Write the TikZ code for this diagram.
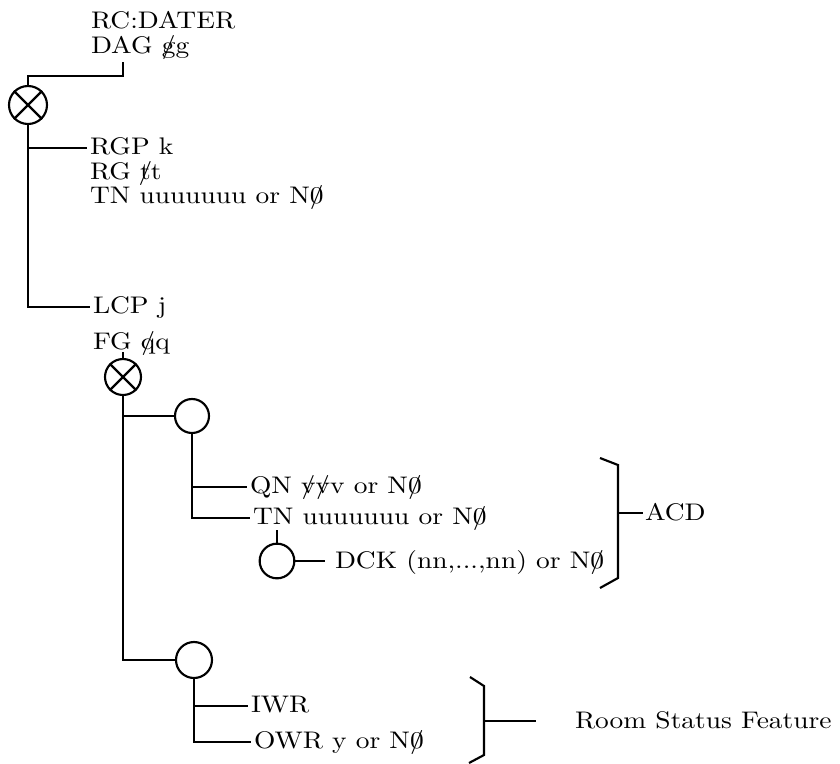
\documentclass[tikz,border=0pt]{standalone}
\usepackage{graphicx}
\newcommand\slsh[1]{\ooalign{#1\cr\hidewidth\smash{/}\hidewidth\cr}}
\newcommand\slz{\slsh{0}}
\newcommand\wide[1]{\scalebox{2.06}[1.8]{#1}}
\tikzset{
  txt/.style={anchor=base west, inner sep=0pt, outer sep=0pt, font=\fontsize{10}{12}\selectfont},
  ring/.style={circle, draw, line width=1.6pt, inner sep=0pt, minimum size=#1},
}
\begin{document}
\begin{tikzpicture}[x=0.75pt,y=-0.75pt, line width=1.6pt]
\useasboundingbox (0,0) rectangle (840,764);
% top
\node[txt] (rc) at (91,28) {\wide{RC:DATER}};
\node[txt] (dag) at (91,53) {\wide{DAG \slsh{g}g}};
\node[ring=28.5pt] (ox1) at (28,105) {};
\draw (ox1.45) -- (ox1.225) (ox1.135) -- (ox1.-45);
\coordinate (dagc) at (123,62);
\draw (ox1.north) |- ([yshift=-10.5pt]dagc) -- (dagc);
% first level
\node[txt] (rgp) at (90,154) {\wide{RGP k}};
\node[txt] (rg) at (90,179) {\wide{RG \slsh{t}t}};
\node[txt] (tna) at (90,203) {\wide{TN uuuuuuu or N\slz}};
\node[txt] (lcp) at (93,313) {\wide{LCP j}};
\node[txt] (fg) at (93,349) {\wide{FG \slsh{q}q}};
\draw (ox1.south) |- ([xshift=-2pt,yshift=4.5pt]rgp.base west);
\draw (ox1.south) |- ([xshift=-2pt,yshift=4.5pt]lcp.base west);
% second cross
\node[ring=27pt] (ox2) at (123,377) {};
\draw (ox2.45) -- (ox2.225) (ox2.135) -- (ox2.-45);
\coordinate (fgc) at (123,352);
\draw (ox2.north) -- (fgc);
\node[ring=25.5pt] (c1) at (192,416) {};
\node[ring=27pt] (c2) at (194,660) {};
\draw (ox2.south) |- (c1.west);
\draw (ox2.south) |- (c2.west);
% ACD group
\node[txt] (qn) at (250,493) {\wide{QN \slsh{v}\slsh{v}v or N\slz}};
\node[txt] (tnb) at (253,524) {\wide{TN uuuuuuu or N\slz}};
\draw (c1.south) |- ([xshift=-2pt,yshift=4.5pt]qn.base west);
\draw (c1.south) |- ([xshift=-2pt,yshift=4.5pt]tnb.base west);
\node[ring=26pt] (c3) at (277,561) {};
\coordinate (tnc) at (277,530);
\draw (c3.north) -- (tnc);
\node[txt] (dck) at (335,568) {\wide{DCK (nn,...,nn) or N\slz}};
\coordinate (dckl) at (325,561);
\draw (c3.east) -- (dckl);
\coordinate (ba1) at (600,458);
\coordinate (ba2) at (618,465);
\coordinate (ba3) at (618,578);
\coordinate (ba4) at (600,588);
\coordinate (bam) at (618,513);
\draw (ba1) -- (ba2) -- (ba3) -- (ba4);
\node[txt] (acd) at (645,520) {\wide{ACD}};
\draw (bam) -- ([xshift=-1.5pt,yshift=5.25pt]acd.base west);
% Room status group
\node[txt] (iwr) at (251,712) {\wide{IWR}};
\node[txt] (owr) at (254,748) {\wide{OWR y or N\slz}};
\draw (c2.south) |- ([xshift=-2pt,yshift=4.5pt]iwr.base west);
\draw (c2.south) |- ([xshift=-2pt,yshift=4.5pt]owr.base west);
\coordinate (bb1) at (470,677);
\coordinate (bb2) at (484,686);
\coordinate (bb3) at (484,755);
\coordinate (bb4) at (469,763);
\coordinate (bbm) at (484,721);
\coordinate (bbe) at (536,721);
\draw (bb1) -- (bb2) -- (bb3) -- (bb4);
\draw (bbm) -- (bbe);
\node[txt] (room) at (575,728) {\wide{Room Status Feature}};
\end{tikzpicture}
\end{document}
